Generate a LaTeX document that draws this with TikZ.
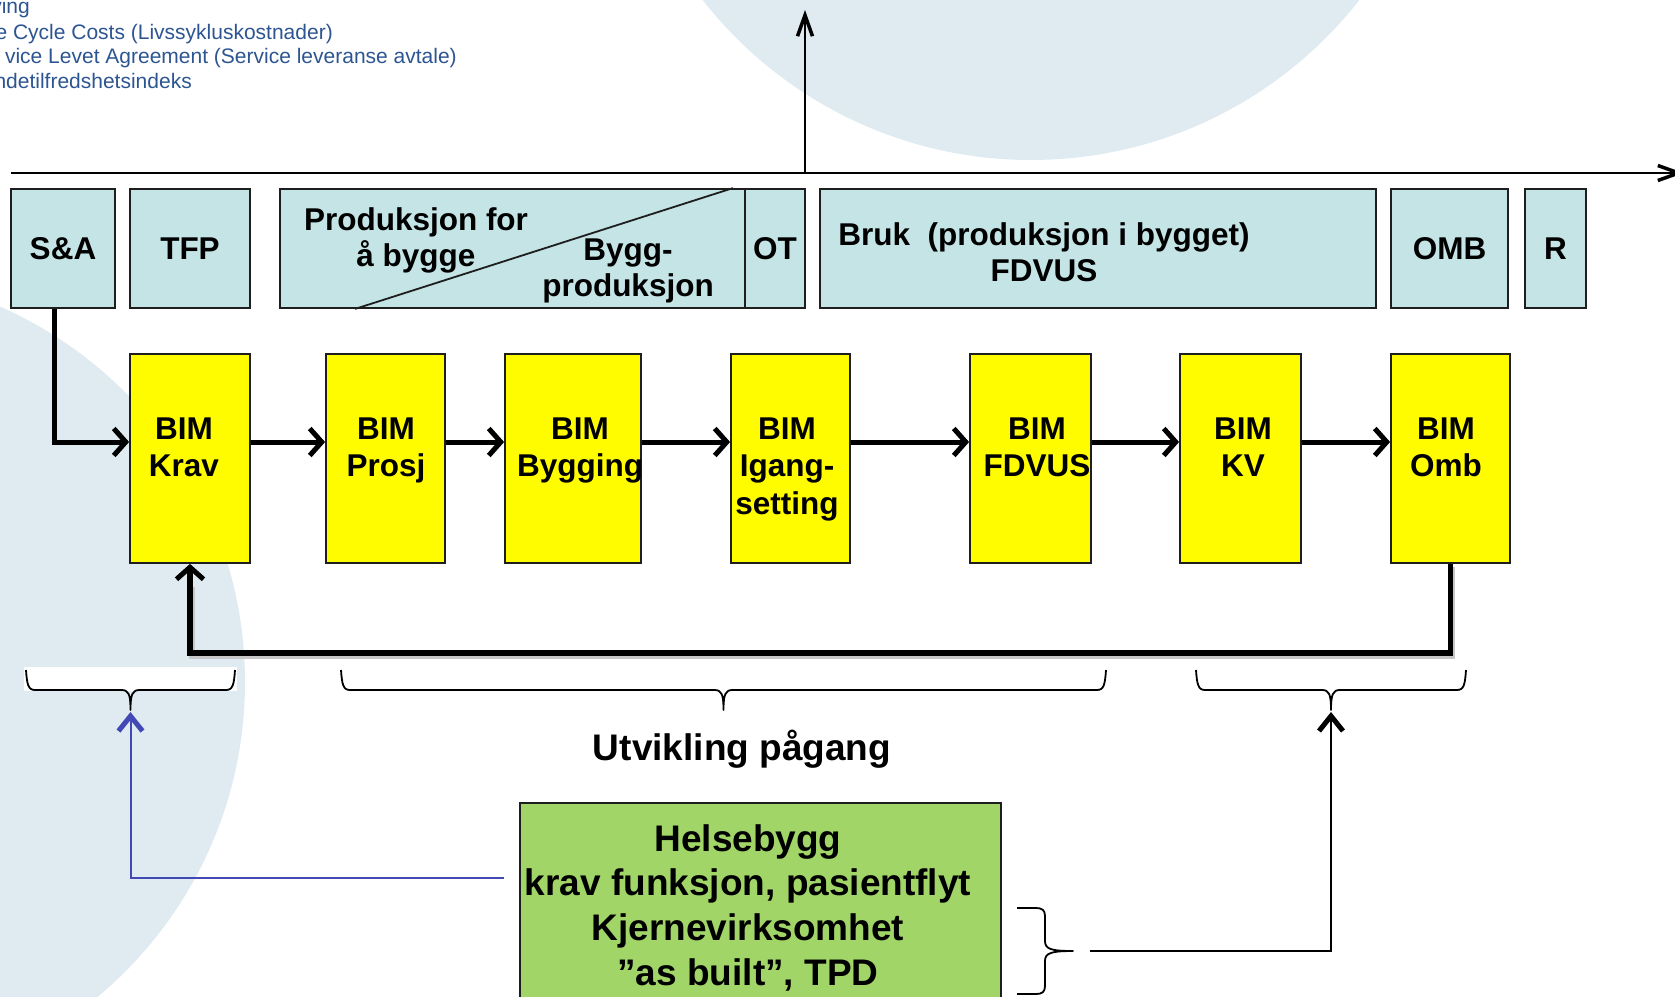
\documentclass[tikz,border=0pt]{standalone}
\usepackage{fontspec}
\setmainfont{Liberation Sans}
\usetikzlibrary{arrows.meta,calc}
\definecolor{circ}{RGB}{223,235,240}
\definecolor{phasefill}{RGB}{196,228,230}
\definecolor{bimfill}{RGB}{255,252,0}
\definecolor{greenfill}{RGB}{162,213,103}
\definecolor{notetext}{RGB}{44,85,145}
\definecolor{bluearr}{RGB}{66,72,180}
\definecolor{edge}{RGB}{30,30,30}
% horizontal brace, tip downward: left x, right x, top y
\newcommand\mybraceh[3]{%
  \draw[bracest] (#1,#3) .. controls (#1+1,#3+14) and (#1+2,#3+20) .. (#1+9,#3+20)
    -- ({(#1+#2)/2-9},#3+20) .. controls ({(#1+#2)/2-2},#3+20) and ({(#1+#2)/2},#3+24) .. ({(#1+#2)/2},#3+40)
    .. controls ({(#1+#2)/2},#3+24) and ({(#1+#2)/2+2},#3+20) .. ({(#1+#2)/2+9},#3+20)
    -- (#2-9,#3+20) .. controls (#2-2,#3+20) and (#2-1,#3+14) .. (#2,#3);}
% vertical brace, tip rightward: left x, top y, bottom y
\newcommand\mybracev[3]{%
  \draw[bracest] (#1,#2) -- (#1+19,#2) .. controls (#1+25,#2) and (#1+28,#2+2) .. (#1+28,#2+8)
    -- (#1+28,{(#2+#3)/2-10}) .. controls (#1+28,{(#2+#3)/2-2}) and (#1+34,{(#2+#3)/2}) .. (#1+56,{(#2+#3)/2})
    .. controls (#1+34,{(#2+#3)/2}) and (#1+28,{(#2+#3)/2+2}) .. (#1+28,{(#2+#3)/2+10})
    -- (#1+28,#3-8) .. controls (#1+28,#3-2) and (#1+25,#3) .. (#1+19,#3) -- (#1,#3);}
\begin{document}
\begin{tikzpicture}[x=1pt,y=-1pt,
  phase/.style={draw=edge, fill=phasefill, line width=1.8, inner sep=0, minimum height=119,
                font=\fontsize{31.5}{37}\selectfont\bfseries},
  bim/.style={draw=edge, fill=bimfill, line width=1.8, inner sep=0, minimum height=209},
  greenbox/.style={draw=edge, fill=greenfill, line width=1.8, inner sep=0},
  lbl/.style={anchor=base, align=center, inner sep=0, font=\fontsize{31.5}{36.5}\selectfont\bfseries},
  bimtxt/.style={anchor=base, align=center, inner sep=0, font=\fontsize{31.5}{37.5}\selectfont\bfseries},
  bigtxt/.style={anchor=base, align=center, inner sep=0, font=\fontsize{37}{44.7}\selectfont\bfseries},
  note/.style={anchor=base east, inner sep=0, text=notetext, font=\fontsize{21}{24.5}\selectfont},
  flow/.style={line width=5, -{Straight Barb[length=12, width=27]}},
  loopline/.style={line width=5.5, -{Straight Barb[length=12, width=27, line width=5]}},
  thinarrow/.style={line width=2, -{Straight Barb[length=21, width=15, line width=3.5]}},
  bluearrow/.style={draw=bluearr, line width=2, -{Straight Barb[length=15, width=24, line width=5]}},
  blackarrow/.style={line width=2, -{Straight Barb[length=15, width=24, line width=5]}},
  bracest/.style={line width=1.8, line join=round},
]
\useasboundingbox (0,0) rectangle (1675,996);
\clip (0,0) rectangle (1675,996);

% background circles
\fill[circ] (1031,-257) circle[radius=417];
\fill[circ] (-165,682) circle[radius=410];

% notes (cut at left edge)
\node[note] (n1) at (30,13) {ving};
\node[note] (n2) at (333,39) {e Cycle Costs (Livssykluskostnader)};
\node[note] (n3) at (457,63) {vice Levet Agreement (Service leveranse avtale)};
\node[note] (n4) at (192,88) {ndetilfredshetsindeks};

% time axis
\coordinate (axL) at (11,173);
\coordinate (axR) at (1684,173);
\coordinate (upB) at (805,173);
\coordinate (upT) at (805,10);
\draw[thinarrow] (axL) -- (axR);
\draw[thinarrow] (upB) -- (upT);

% phase row
\node[phase, minimum width=104] (sa) at (63,248.5) {S\&A};
\node[phase, minimum width=120] (tfp) at (190,248.5) {TFP};
\node[phase, minimum width=465] (prod) at (512.5,248.5) {};
\node[phase, minimum width=60] (ot) at (775,248.5) {OT};
\node[phase, minimum width=556] (bruk) at (1098,248.5) {};
\node[phase, minimum width=117] (omb) at (1449.5,248.5) {OMB};
\node[phase, minimum width=61] (r) at (1555.5,248.5) {R};
\draw[line width=1.8, draw=edge] ($(prod.south west)+(76,0)$) -- ($(prod.north east)+(-13,0)$);
\node[lbl] (prodA) at (416,266.5) {Produksjon for\\å bygge};
\node[lbl] (prodB) at (628,296.5) {Bygg-\\produksjon};
\node[lbl] (brukT) at (1044,281.5) {Bruk\ \ (produksjon i bygget)\\FDVUS};

% BIM boxes
\node[bim, minimum width=120] (krav) at (190,458.5) {};
\node[bim, minimum width=119] (prosj) at (385.5,458.5) {};
\node[bim, minimum width=136] (bygging) at (573,458.5) {};
\node[bim, minimum width=119] (igang) at (790.5,458.5) {};
\node[bim, minimum width=121] (fdvus) at (1030.5,458.5) {};
\node[bim, minimum width=121] (kv) at (1240.5,458.5) {};
\node[bim, minimum width=119] (ombb) at (1450.5,458.5) {};
\node[bimtxt] (kravT) at (184,476.5) {BIM\\Krav};
\node[bimtxt] (prosjT) at (386,476.5) {BIM\\Prosj};
\node[bimtxt] (byggingT) at (580,476.5) {BIM\\Bygging};
\node[bimtxt] (igangT) at (787,514) {BIM\\Igang-\\setting};
\node[bimtxt] (fdvusT) at (1037,476.5) {BIM\\FDVUS};
\node[bimtxt] (kvT) at (1243,476.5) {BIM\\KV};
\node[bimtxt] (ombT) at (1446,476.5) {BIM\\Omb};

% flow arrows
\draw[flow] ([xshift=-9pt]sa.south) |- ([yshift=16.5pt]krav.west);
\draw[flow] ([yshift=16.5pt]krav.east) -- ([yshift=16.5pt]prosj.west);
\draw[flow] ([yshift=16.5pt]prosj.east) -- ([yshift=16.5pt]bygging.west);
\draw[flow] ([yshift=16.5pt]bygging.east) -- ([yshift=16.5pt]igang.west);
\draw[flow] ([yshift=16.5pt]igang.east) -- ([yshift=16.5pt]fdvus.west);
\draw[flow] ([yshift=16.5pt]fdvus.east) -- ([yshift=16.5pt]kv.west);
\draw[flow] ([yshift=16.5pt]kv.east) -- ([yshift=16.5pt]ombb.west);

% feedback loop
\draw[line width=5.5, black!22, transform canvas={shift={(2pt,-3pt)}}] (ombb.south) -- ++(0,89) -| ([yshift=-20pt]krav.south);
\draw[loopline] (ombb.south) -- ++(0,89) -| (krav.south);

% braces
\fill[white] (24,667) rectangle (237,691);
\mybraceh{26}{235}{670}
\mybraceh{341}{1106}{670}
\mybraceh{1196}{1466}{670}
\coordinate (b1tip) at (130.5,712);
\coordinate (b3tip) at (1331,712);

\node[bigtxt] (utv) at (742,760) {Utvikling pågang};

% green box
\node[greenbox, minimum width=481, minimum height=212] (green) at (760.5,909) {};
\node[bigtxt] (greenT) at (748,985.1) {Helsebygg\\krav funksjon, pasientflyt\\Kjernevirksomhet\\”as built”, TPD};

\mybracev{1017}{908}{994}
\coordinate (gtip) at (1073,951);
\coordinate (bY) at (0,878);

\draw[bluearrow, shorten <=15pt] (green.west |- bY) -| (b1tip);
\draw[blackarrow, shorten <=17pt] (gtip) -| (b3tip);
\end{tikzpicture}
\end{document}
